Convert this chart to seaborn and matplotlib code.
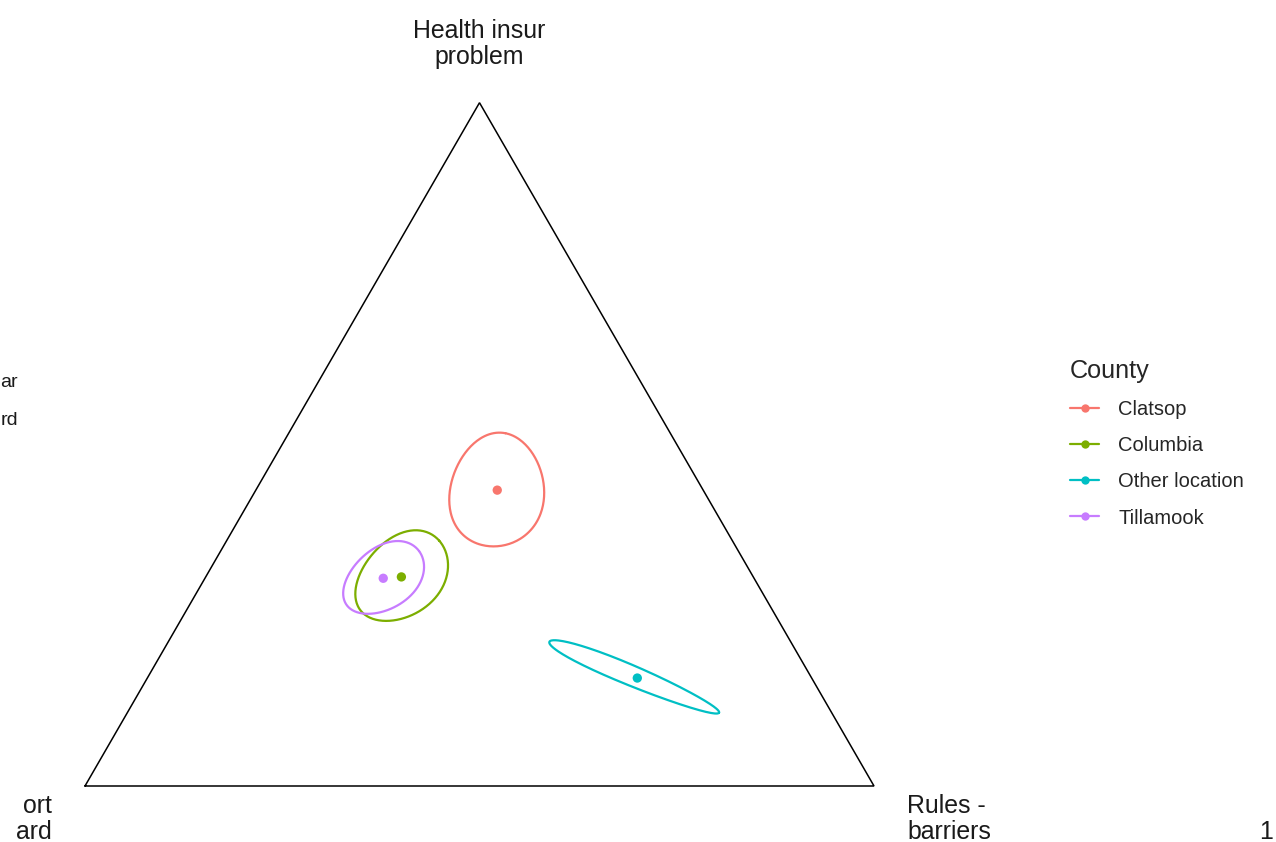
import numpy as np
import pandas as pd
import matplotlib
matplotlib.use("Agg")
import matplotlib.pyplot as plt
from matplotlib.lines import Line2D
import seaborn as sns

# Group centroids as compositions (Health insur problem, Rules - barriers, remainder)
counties = ["Clatsop", "Columbia", "Other location", "Tillamook"]
health = [0.433, 0.306, 0.158, 0.304]
rules = [0.306, 0.248, 0.621, 0.226]
support = [0.261, 0.446, 0.221, 0.470]

# Confidence region spread around each centroid (triangle-side units, degrees)
semi_major = [0.0727, 0.0669, 0.1178, 0.0574]
semi_minor = [0.0598, 0.0480, 0.0127, 0.0384]
tilt_deg = [81.0, 43.0, -22.7, 37.0]

palette = {"Clatsop": "#F8766D", "Columbia": "#7CAE00",
           "Other location": "#00BFC4", "Tillamook": "#C77CFF"}

S3 = np.sqrt(3) / 2
CURVATURE = 0.5  # how strongly the log-ratio geometry bends the ellipses


def to_xy(a, b, c):
    tot = a + b + c
    a, c = a / tot, c / tot
    return c + a / 2, S3 * a


def region(a, b, c, A, B, ang, n=240):
    """Ellipse built in log-ratio space, mapped back onto the simplex."""
    t = np.linspace(0, 2 * np.pi, n)
    th = np.deg2rad(ang)
    u, v = A * np.cos(t), B * np.sin(t)
    dX = u * np.cos(th) - v * np.sin(th)
    dY = u * np.sin(th) + v * np.cos(th)
    J = np.array([[-a * c + a * (1 - a) / 2, c * (1 - c) - a * c / 2],
                  [S3 * a * (1 - a), -S3 * a * c]])
    dz = np.linalg.solve(J, np.vstack([dX, dY]))
    z1 = np.log(a / b) + dz[0]
    z2 = np.log(c / b) + dz[1]
    ea, ec = np.exp(z1), np.exp(z2)
    nx, ny = to_xy(ea, np.ones_like(ea), ec)
    x0, y0 = to_xy(a, b, c)
    lx, ly = x0 + dX, y0 + dY
    return lx + CURVATURE * (nx - lx), ly + CURVATURE * (ny - ly)


sns.set_theme(style="white")
plt.rcParams["font.family"] = ["Liberation Sans", "DejaVu Sans"]

W, H = 1276, 842
fig = plt.figure(figsize=(W / 100, H / 100), dpi=100)
ax = fig.add_axes([0, 0, 1, 1])
side = 789.0
ox, oy = 85.0, 786.0
ax.axis("off")

# Triangle frame
vx = [0, 0.5, 1, 0]
vy = [0, S3, 0, 0]
ax.plot(vx, vy, color="black", lw=1.1, solid_joinstyle="miter", zorder=1)

# Confidence regions
rows = []
for i, name in enumerate(counties):
    ex, ey = region(health[i], support[i], rules[i],
                    semi_major[i], semi_minor[i], tilt_deg[i])
    for k, (xx, yy) in enumerate(zip(ex, ey)):
        rows.append({"County": name, "x": xx, "y": yy, "k": k})
ell = pd.DataFrame(rows)
sns.lineplot(data=ell, x="x", y="y", hue="County", units="County",
             estimator=None, sort=False, palette=palette, lw=1.6,
             legend=False, ax=ax, zorder=3)

# Centroids
cx, cy = to_xy(np.array(health), np.array(support), np.array(rules))
cent = pd.DataFrame({"County": counties, "x": cx, "y": cy})
sns.scatterplot(data=cent, x="x", y="y", hue="County", palette=palette,
                s=45, linewidth=0, legend=False, ax=ax, zorder=4)
ax.set_xlim(-ox / side, (W - ox) / side)
ax.set_ylim(-(H - oy) / side, oy / side)
ax.set_xlabel("")
ax.set_ylabel("")


def px(x, y):
    return (x - ox) / side, (oy - y) / side


lab = dict(fontsize=17.9, color="#1a1a1a", linespacing=1.14)
ax.text(*px(479, 44), "Health insur\nproblem", ha="center", va="center", **lab)
ax.text(*px(907, 819), "Rules -\nbarriers", ha="left", va="center", **lab)
ax.text(*px(52, 819), "ort\nard", ha="right", va="center",
        multialignment="right", **lab)
ax.text(*px(1259, 832), "1", ha="left", va="center", **lab)
ax.text(*px(0.5, 383), "ar", ha="left", va="center", fontsize=14, color="#1a1a1a")
ax.text(*px(0.5, 421), "rd", ha="left", va="center", fontsize=14, color="#1a1a1a")

handles = [Line2D([0], [0], color=palette[c], lw=1.6, marker="o",
                  markersize=6, markeredgewidth=0) for c in counties]
leg = fig.legend(handles, counties, title="County", loc="upper left",
                 bbox_to_anchor=(1065 / W, 1 - 354 / H), frameon=False,
                 fontsize=14.5, title_fontsize=18.2, handlelength=1.45,
                 handletextpad=0.95, labelspacing=0.85, borderpad=0.25,
                 borderaxespad=0)
leg._legend_box.align = "left"

fig.savefig("out.png", dpi=100)
